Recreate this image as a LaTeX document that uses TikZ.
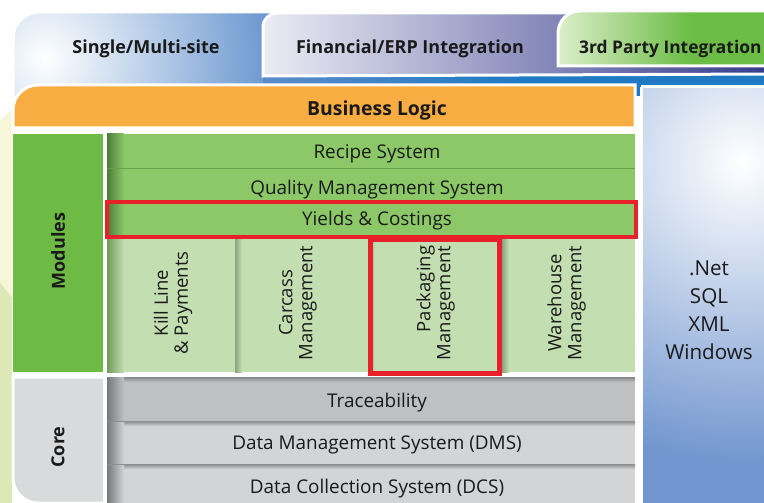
\documentclass[tikz,border=0pt]{standalone}
\usepackage{fontspec}
\setmainfont{Open Sans}
\definecolor{orangeC}{HTML}{F8AD43}
\definecolor{modG}{HTML}{6DBB45}
\definecolor{rowG}{HTML}{8CC868}
\definecolor{rowGd}{HTML}{4E7C38}
\definecolor{rowLine}{HTML}{66A04A}
\definecolor{colG}{HTML}{C3DEB0}
\definecolor{colGd}{HTML}{8AA27E}
\definecolor{coreL}{HTML}{D9DADC}
\definecolor{trace}{HTML}{BEC0C2}
\definecolor{coreR}{HTML}{D3D4D6}
\definecolor{coreD}{HTML}{77787A}
\definecolor{coreLine}{HTML}{8E8F91}
\definecolor{redC}{HTML}{E8202A}
\definecolor{blueT}{HTML}{5B8CCA}
\definecolor{blueBand}{HTML}{1F7AC3}
\definecolor{purL}{HTML}{ECECF4}
\definecolor{purM}{HTML}{8A86B6}
\definecolor{purR}{HTML}{33388A}
\definecolor{grnL}{HTML}{DDEECC}
\definecolor{grnR}{HTML}{6CBD45}
\definecolor{rightB}{HTML}{7296CF}
\definecolor{bgY}{HTML}{F7F6D8}
\definecolor{bgG}{HTML}{DEE8B6}
\definecolor{txt}{HTML}{1A1A1A}
\tikzset{
  rowtext/.style={text=txt, font=\fontsize{18.9}{20}\selectfont, inner sep=0pt},
  boldtext/.style={text=txt, font=\fontsize{18}{20}\selectfont\bfseries, inner sep=0pt},
  coltext/.style={text=txt, font=\fontsize{18.5}{20}\selectfont, rotate=90, align=center, inner sep=0pt},
  techtext/.style={text=txt, font=\fontsize{20.6}{28}\selectfont, align=center, inner sep=0pt},
  whiteedge/.style={draw=white, line width=3pt},
  redbox/.style={draw=redC, line width=4.5pt},
}
\begin{document}
\begin{tikzpicture}[x=1pt,y=-1pt]
\path[use as bounding box] (0,0) rectangle (764,503);
\clip (0,0) rectangle (764,503);
\fill[white] (0,0) rectangle (764,503);
% left background
\fill[bgY] (0,120) -- (12,110) -- (12,298) -- (0,282) -- cycle;
\fill[bgG] (0,282) -- (12,298) -- (12,503) -- (0,503) -- cycle;
% blue back tab
\begin{scope}
  \clip (13,96) [rounded corners=26pt]-- (13,12) [sharp corners]-- (775,12) -- (775,96) -- cycle;
  \fill[blueT] (0,0) rectangle (775,100);
  \shade[inner color=white, outer color=blueT] (45,58) circle (250pt);
  \fill[blueBand] (520,70) rectangle (775,96);
  \shade[left color=blueT, right color=blueBand] (263,70) rectangle (520.5,96);
\end{scope}
\draw[whiteedge] (13,96) [rounded corners=26pt]-- (13,12) [sharp corners]-- (775,12) -- (775,96);
% purple tab
\begin{scope}
  \clip (263,76) [rounded corners=14pt]-- (263,13) [sharp corners]-- (775,13) -- (775,74) -- cycle;
  \shade[left color=purL, middle color=purM, right color=purR] (263,0) rectangle (775,80);
\end{scope}
\draw[whiteedge] (263,76) [rounded corners=14pt]-- (263,13) [sharp corners]-- (775,13) -- (775,74) -- cycle;
% green tab
\begin{scope}
  \clip (558,66) [rounded corners=22pt]-- (558,11) [sharp corners]-- (775,11) -- (775,66) -- cycle;
  \fill[grnR] (558,0) rectangle (775,70);
  \shade[left color=grnL, right color=grnR] (558,0) rectangle (690,70);
\end{scope}
\draw[whiteedge] (558,66) [rounded corners=22pt]-- (558,11) [sharp corners]-- (775,11) -- (775,66) -- cycle;
% orange business logic
\fill[orangeC, whiteedge] (13,128) [rounded corners=25pt]-- (13,85) [sharp corners]-- (635,85) -- (635,128) -- cycle;
% right column
\begin{scope}
  \clip (641,87) rectangle (775,510);
  \fill[rightB] (641,87) rectangle (775,510);
  \shade[inner color=white, outer color=rightB] (742,162) circle (300pt);
\end{scope}
\draw[whiteedge] (641,87) -- (641,510) (641,87) -- (775,87);
% modules label
\fill[modG] (13,134) rectangle (103,372);
% rows
\foreach \ya/\yb in {134/169, 169/203, 203/238}{
  \fill[rowG] (107,\ya) rectangle (635,\yb);
  \shade[left color=rowGd, right color=rowG] (107,\ya) rectangle (124,\yb);
  \draw[rowLine, line width=1.5pt] (107,\yb-0.75) -- (635,\yb-0.75);
}
% vertical module columns
\fill[colG] (107,238) rectangle (635,372);
\shade[left color=rowGd!70!colG, right color=colG] (107,238) rectangle (124,372);
\foreach \xa in {235,368,502}{
  \shade[left color=colGd, right color=colG] (\xa,238) rectangle (\xa+7,372);
}
% red boxes
\draw[redbox] (107,202) rectangle (636,237);
\draw[redC, line width=5pt] (370.5,239) rectangle (499.5,373.5);
% core label
\fill[coreL, whiteedge] (103,377) -- (13,377) [rounded corners=25pt]-- (13,503) [sharp corners]-- (103,503);
\fill[coreL] (14.5,378.5) rectangle (103,400);
% core rows
\foreach \ya/\yb/\c in {377/421/trace, 421/464/coreR, 464/510/coreR}{
  \fill[\c] (107,\ya) rectangle (635,\yb);
  \shade[top color=coreD!80!\c, bottom color=\c] (107,\ya) rectangle (635,\ya+5);
  \shade[left color=coreD, right color=\c] (107,\ya) rectangle (124,\yb);
}
\draw[coreLine, line width=1pt] (107,421) -- (635,421) (107,464) -- (635,464);
% texts
\node[boldtext] (tab1) at (146,49) {Single/Multi-site};
\node[boldtext] (tab2) at (410,49) {Financial/ERP Integration};
\node[boldtext, anchor=west, font=\fontsize{17.4}{20}\selectfont\bfseries] (tab3) at (579,49) {3rd Party Integration};
\node[boldtext, font=\fontsize{19.4}{20}\selectfont\bfseries] (bl) at (377,110) {Business Logic};
\node[boldtext, rotate=90] (mod) at (58,251) {Modules};
\node[boldtext, rotate=90] (core) at (58,447) {Core};
\node[rowtext] (recipe) at (377,154) {Recipe System};
\node[rowtext] (qms) at (377,189.5) {Quality Management System};
\node[rowtext] (yc) at (377,221) {Yields \& Costings};
\node[coltext] (kill) at (173,303) {Kill Line\\\& Payments};
\node[coltext] (carc) at (298,303) {Carcass\\Management};
\node[coltext, align=right] (pack) at (435.5,303) {Packaging\\Management};
\node[coltext] (ware) at (566.5,303) {Warehouse\\Management};
\node[rowtext] (trc) at (377,403) {Traceability};
\node[rowtext] (dms) at (377,445) {Data Management System (DMS)};
\node[rowtext] (dcs) at (377,489) {Data Collection System (DCS)};
\node[techtext] (tech) at (709,310) {.Net\\SQL\\XML\\Windows};
\end{tikzpicture}
\end{document}
